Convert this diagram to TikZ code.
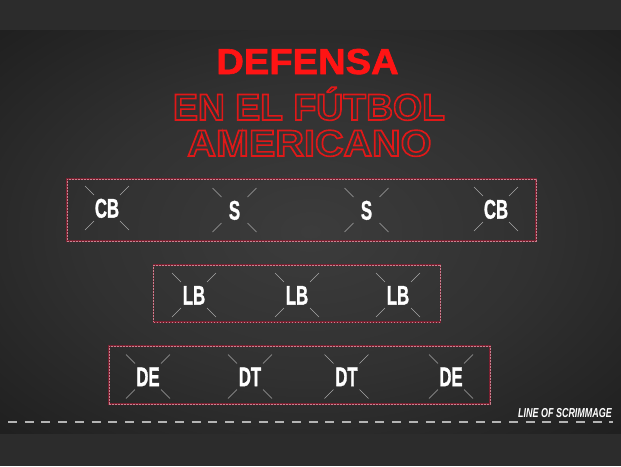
\documentclass[tikz,border=0pt]{standalone}
\usepackage{fontspec}
\setmainfont{Liberation Sans}
\newfontface\blackfont{Liberation Sans Bold}[FakeBold=1.8]
\newfontface\plfont{Liberation Sans Bold}[FakeBold=1.5]
\definecolor{bandgray}{HTML}{2C2C2C}
\definecolor{boardA}{HTML}{3C3C3C}
\definecolor{boardB}{HTML}{313131}
\definecolor{boardC}{HTML}{1F1F1F}
\definecolor{titlered}{HTML}{FF1414}
\definecolor{outred}{HTML}{E01818}
\definecolor{boxdark}{HTML}{7A2030}
\definecolor{boxpink}{HTML}{C88290}
\definecolor{xgray}{HTML}{A8A8A8}
\definecolor{scrimgray}{HTML}{B4B4B4}
\pgfdeclareradialshading{board}{\pgfpoint{0bp}{0bp}}{color(0bp)=(boardA); color(18bp)=(boardB); color(36bp)=(boardC); color(50bp)=(boardC)}
\newcommand\xmk[1]{\draw[xline] (#1) ++(-22,-22) -- ++(9,9) (#1) ++(22,-22) -- ++(-9,9) (#1) ++(-22,22) -- ++(9,-9) (#1) ++(22,22) -- ++(-9,-9);}
\newcommand\outlinetext[1]{\special{pdf:literal direct 1 Tr 1.6 w}#1\special{pdf:literal direct 0 Tr}}
\begin{document}
\begin{tikzpicture}[x=1pt,y=-1pt,
  player/.style={text=white, font=\fontsize{27}{27}\plfont, xscale=0.62, inner sep=0pt, text height=19.3pt, text depth=0pt},
  xline/.style={draw=xgray, line width=0.6pt},
  rowbox/.style={draw=boxdark, line width=1.6pt, inner sep=0pt, postaction={draw=boxpink, line width=0.6pt, dash pattern=on 1.6pt off 1.4pt}},
  scrim/.style={draw=scrimgray, line width=1.5pt, dash pattern=on 9pt off 7.7pt},
  titlefont/.style={font=\fontsize{36}{36}\blackfont, inner sep=0pt, anchor=base},
  subfont/.style={font=\fontsize{37}{37}\selectfont\bfseries, inner sep=0pt, anchor=base}
]
\useasboundingbox (0,0) rectangle (621,466);
\fill[bandgray] (0,0) rectangle (621,466);
\shade[shading=board] (0,30) rectangle (621,433);

% title
\node[titlefont, text=titlered, xscale=1.06] (t1) at (307.5,74) {DEFENSA};
\node[subfont, text=outred, xscale=1.01] (t2) at (309,120) {\outlinetext{EN EL FÚTBOL}};
\node[subfont, text=outred, xscale=1.07] (t3) at (309.5,156) {\outlinetext{AMERICANO}};

% row boxes
\node[rowbox, minimum width=469pt, minimum height=62pt] (row1) at (301.5,210) {};
\node[rowbox, minimum width=287pt, minimum height=57pt] (row2) at (297,293.5) {};
\node[rowbox, minimum width=381pt, minimum height=58pt] (row3) at (299.5,375) {};

% players
\node[player] (cb1) at (107,208) {CB};
\node[player] (s1) at (234.5,210) {S};
\node[player] (s2) at (366.5,210) {S};
\node[player] (cb2) at (496,209) {CB};
\node[player] (lb1) at (194,295) {LB};
\node[player] (lb2) at (297,295) {LB};
\node[player] (lb3) at (398,295) {LB};
\node[player] (de1) at (148,376.5) {DE};
\node[player] (dt1) at (250,376.5) {DT};
\node[player] (dt2) at (346.5,376.5) {DT};
\node[player] (de2) at (451,376.5) {DE};
\foreach \n in {cb1,s1,s2,cb2,lb1,lb2,lb3,de1,dt1,dt2,de2}{\xmk{\n.center}}

% line of scrimmage
\coordinate (ls1) at (8,422);
\coordinate (ls2) at (613,422);
\draw[scrim] (ls1) -- (ls2);
\node[anchor=base east, text=white, font=\fontsize{13}{13}\selectfont\bfseries\itshape, xscale=0.69, inner sep=0pt] (los) at (612,417) {LINE OF SCRIMMAGE};
\end{tikzpicture}
\end{document}
